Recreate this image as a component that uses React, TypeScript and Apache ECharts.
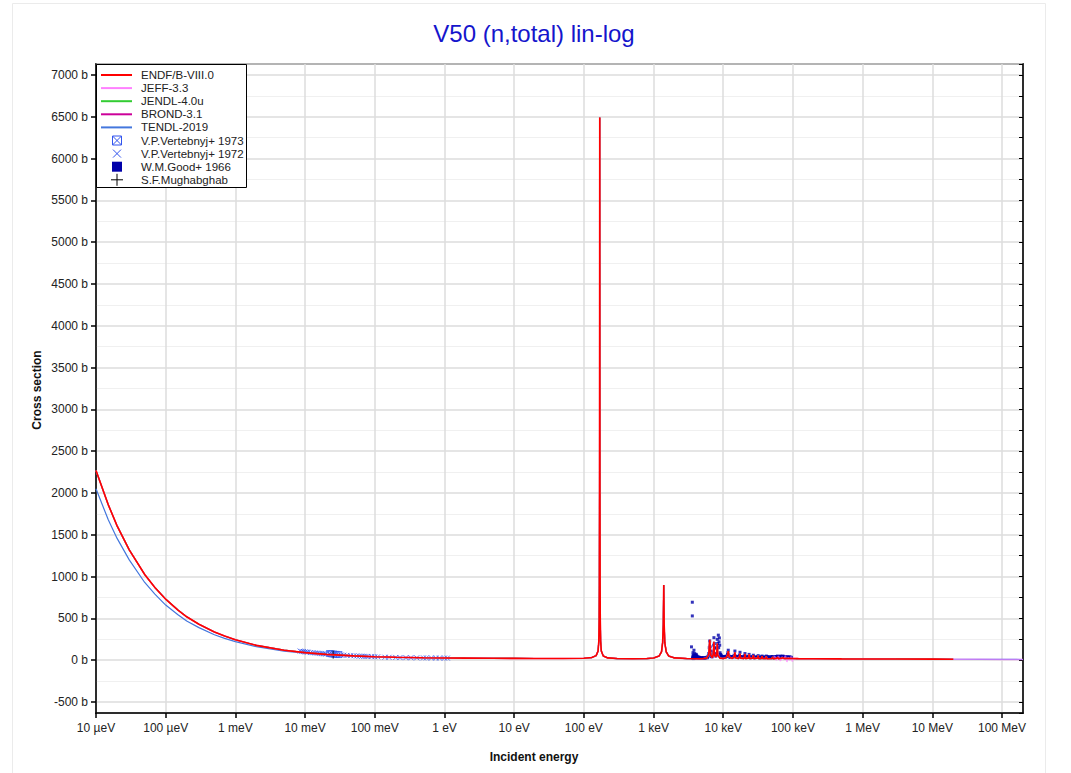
import React, { useEffect, useRef } from "react";
import * as echarts from "echarts";

const FONT = "'Liberation Sans', Arial, Helvetica, sans-serif";

const xTickLabels = [
  "10 µeV", "100 µeV", "1 meV", "10 meV", "100 meV", "1 eV", "10 eV",
  "100 eV", "1 keV", "10 keV", "100 keV", "1 MeV", "10 MeV", "100 MeV",
];

const legendNames = [
  "ENDF/B-VIII.0", "JEFF-3.3", "JENDL-4.0u", "BROND-3.1", "TENDL-2019",
  "V.P.Vertebnyj+ 1973", "V.P.Vertebnyj+ 1972", "W.M.Good+ 1966", "S.F.Mughabghab",
];

// energies in eV, cross sections in b
const endfThermal: number[][] = [
  [1e-5, 2270], [1.5e-5, 1860], [2e-5, 1610], [3e-5, 1320], [5e-5, 1025], [7e-5, 870],
  [1e-4, 730], [1.5e-4, 600], [2e-4, 520], [3e-4, 430], [5e-4, 338], [7e-4, 290],
  [1e-3, 245], [2e-3, 178], [5e-3, 120], [1e-2, 91], [2e-2, 70], [5e-2, 52],
  [0.1, 42], [0.2, 36], [0.5, 30], [1, 27], [2, 25], [5, 23], [10, 22],
];

const tendlThermal: number[][] = [
  [1e-5, 2050], [1.5e-5, 1680], [2e-5, 1460], [3e-5, 1200], [5e-5, 930], [7e-5, 790],
  [1e-4, 660], [1.5e-4, 545], [2e-4, 470], [3e-4, 390], [5e-4, 305], [7e-4, 262],
  [1e-3, 222], [2e-3, 162], [5e-3, 110], [1e-2, 84], [2e-2, 66], [5e-2, 49],
  [0.1, 40], [0.2, 35], [0.5, 29], [1, 26], [2, 24.5], [5, 23], [10, 22],
];

const resonanceRegion: number[][] = [
  [20, 21], [50, 21], [100, 24], [130, 32], [150, 55], [160, 110], [164, 230], [166, 480],
  [167, 900], [168, 2000], [168.6, 4200], [169, 6490], [169.4, 4200], [170, 2000], [171, 900],
  [172, 480], [174, 230], [178, 110], [190, 50], [220, 28], [300, 20], [500, 18], [800, 20],
  [1000, 26], [1200, 50], [1300, 100], [1350, 210], [1380, 430], [1400, 900], [1420, 430],
  [1450, 210], [1520, 100], [1650, 50], [2000, 28], [3000, 20], [4000, 18], [5000, 18],
  [5800, 25], [6200, 70], [6400, 245], [6600, 60], [7000, 30], [7200, 80], [7350, 220],
  [7500, 60], [7900, 40], [8100, 90], [8200, 200], [8350, 60], [9000, 25], [10000, 20],
  [11000, 30], [11500, 60], [11800, 110], [12100, 40], [13500, 20], [14400, 50], [14700, 95],
  [15000, 30], [16500, 20], [17100, 45], [17400, 80], [17700, 25], [19800, 20], [20200, 40],
  [20500, 75], [20900, 20], [23000, 25], [23500, 70], [24000, 20], [26500, 25], [27000, 60],
  [27500, 20], [31000, 25], [31700, 55], [32300, 20], [35300, 20], [36000, 50], [36700, 20],
  [40800, 20], [41500, 45], [42200, 18], [50000, 20],
];

const endfUrr: number[][] = [
  [51000, 40], [52000, 18], [58000, 22], [60000, 35], [62000, 18], [70000, 25],
  [72000, 32], [75000, 20], [85000, 22], [100000, 20], [120000, 19],
];

const jeffUrr: number[][] = [
  [55000, 45], [58000, 0], [62000, 50], [66000, -10], [70000, 40], [74000, 5], [78000, 55],
  [82000, -20], [86000, 35], [90000, 0], [94000, 45], [98000, -15], [102000, 30],
  [106000, 10], [110000, 25], [120000, 19],
];

const fastRange: number[][] = [
  [200000, 18], [500000, 16], [1e6, 15], [3e6, 14], [1e7, 13], [2e7, 12],
];

const highRange: number[][] = [[5e7, 11], [1e8, 10], [2e8, 9]];

const vertebnyj1973: number[][] = [
  [0.0225, 80], [0.024, 76], [0.026, 73], [0.028, 70], [0.0305, 68],
];

const vertebnyj1972: number[][] = [
  [0.0085, 110], [0.009, 106], [0.0095, 104], [0.01, 100], [0.0105, 98], [0.011, 96],
  [0.012, 92], [0.013, 90], [0.014, 87], [0.015, 85], [0.016, 82], [0.017, 80], [0.018, 78],
  [0.019, 76], [0.02, 74], [0.033, 62], [0.036, 60], [0.04, 58], [0.045, 55], [0.05, 53],
  [0.055, 51], [0.06, 49], [0.065, 48], [0.07, 47], [0.075, 46], [0.08, 45], [0.09, 44],
  [0.1, 42], [0.11, 41], [0.14, 36], [0.16, 35], [0.2, 33], [0.23, 32], [0.28, 31],
  [0.33, 30], [0.4, 29], [0.5, 28], [0.55, 28], [0.65, 27], [0.75, 27], [0.85, 26],
  [1.0, 26], [1.1, 26],
];

const good1966: number[][] = [
  [3500, 160], [3600, 694], [3600, 530], [3620, 25], [3650, 40], [3680, 90], [3700, 60],
  [3720, 20], [3750, 30], [3780, 55], [3800, 120], [3820, 40], [3850, 50], [3880, 25],
  [3900, 80], [3920, 45], [3950, 35], [3980, 60], [4000, 45], [4020, 30], [4050, 60],
  [4080, 35], [4100, 70], [4120, 50], [4150, 40], [4180, 30], [4200, 50], [4250, 35],
  [4300, 30], [4350, 40], [4400, 35], [4450, 25], [4500, 28], [4550, 35], [4600, 30],
  [4700, 28], [4800, 25], [4900, 30], [5000, 25], [5100, 28], [5200, 30], [5350, 25],
  [5500, 28], [5650, 30], [5800, 35], [5900, 30], [6000, 40], [6100, 50], [6200, 80],
  [6300, 150], [6400, 230], [6500, 160], [6600, 110], [6700, 60], [6800, 45], [6900, 40],
  [7000, 60], [7100, 70], [7200, 100], [7300, 180], [7350, 270], [7450, 200], [7600, 150],
  [7700, 80], [7800, 50], [7900, 60], [8000, 70], [8100, 140], [8200, 250], [8300, 200],
  [8500, 300], [8600, 150], [8700, 220], [8800, 267], [8900, 180], [9000, 90], [9150, 70],
  [9300, 60], [9450, 50], [9600, 40], [9800, 45], [10000, 35], [10200, 40], [10500, 45],
  [10800, 40], [11000, 50], [11200, 45], [11500, 70], [11650, 90], [11800, 120], [12000, 60],
  [12200, 40], [12500, 40], [12800, 35], [13000, 35], [13200, 40], [13500, 45], [13800, 40],
  [14000, 40], [14300, 60], [14700, 110], [15000, 50], [15500, 40], [15800, 35], [16000, 35],
  [16300, 40], [16500, 45], [17000, 60], [17400, 95], [17700, 45], [18000, 35], [18500, 40],
  [19000, 40], [19500, 35], [20000, 50], [20500, 80], [20800, 40], [21000, 35], [21500, 35],
  [22000, 40], [22500, 35], [23000, 45], [23500, 70], [24000, 35], [24500, 30], [25000, 35],
  [25500, 40], [26000, 35], [26500, 45], [27000, 60], [27500, 35], [28000, 30], [28500, 35],
  [29000, 40], [30000, 35], [31000, 40], [31700, 55], [32500, 35], [33000, 30], [33500, 35],
  [34000, 35], [35000, 40], [36000, 50], [37000, 35], [38000, 35], [39000, 40], [40000, 35],
  [41500, 50], [42500, 40], [43000, 35], [44000, 40], [45000, 40], [46500, 35], [48000, 35],
  [49000, 40], [50000, 45], [51000, 40], [52000, 30], [53500, 35], [55000, 40], [56500, 45],
  [58000, 45], [59000, 40], [60000, 50], [61000, 45], [62000, 35], [63500, 40], [65000, 45],
  [66500, 50], [68000, 40], [69000, 45], [70000, 40], [71000, 45], [72000, 50], [73500, 45],
  [75000, 45], [76500, 40], [78000, 35], [79000, 40], [80000, 35], [82500, 40], [85000, 40],
  [87500, 35], [90000, 40], [92500, 35], [95000, 35],
];

const mughabghab: number[][] = [[0.0253, 66]];

const endfData = [...endfThermal, ...resonanceRegion, ...endfUrr, ...fastRange];
const jeffData = [...endfThermal, ...resonanceRegion, ...jeffUrr, ...fastRange, ...highRange];
const jendlData = [...endfThermal, ...resonanceRegion, ...endfUrr, ...fastRange];
const brondData = [...endfThermal, ...resonanceRegion, ...endfUrr, ...fastRange];
const tendlData = [...tendlThermal, ...resonanceRegion, ...endfUrr, ...fastRange, ...highRange];

const COLORS = {
  endf: "#ff0000",
  jeff: "#ff80ff",
  jendl: "#33cc33",
  brond: "#cc0099",
  tendl: "#4477dd",
  vert: "#3355ee",
  good: "#0000aa",
  mugh: "#000000",
};

const BOXED_X = "path://M0,0L10,0L10,10L0,10ZM0,0L10,10M10,0L0,10";
const CROSS_X = "path://M0,0L10,10M10,0L0,10";
const PLUS = "path://M5,0L5,10M0,5L10,5";

function buildLegend() {
  const children: any[] = [];
  const x0 = 96.5;
  const y0 = 64.5;
  children.push({
    type: "rect",
    shape: { x: x0, y: y0, width: 150, height: 123 },
    style: { fill: "#ffffff", stroke: "#000000", lineWidth: 1 },
    z: 100,
  });
  const lineColors = [COLORS.endf, COLORS.jeff, COLORS.jendl, COLORS.brond, COLORS.tendl];
  legendNames.forEach((name, i) => {
    const cy = 75 + i * 13.1;
    if (i < 5) {
      children.push({
        type: "line",
        shape: { x1: 101, y1: cy, x2: 132, y2: cy },
        style: { stroke: lineColors[i], lineWidth: 2 },
        z: 101,
      });
    } else if (i === 5) {
      children.push({
        type: "rect",
        shape: { x: 112.5, y: cy - 4.5, width: 9, height: 9 },
        style: { fill: "none", stroke: COLORS.vert, lineWidth: 1 },
        z: 101,
      });
      children.push({ type: "line", shape: { x1: 112.5, y1: cy - 4.5, x2: 121.5, y2: cy + 4.5 }, style: { stroke: COLORS.vert, lineWidth: 1 }, z: 101 });
      children.push({ type: "line", shape: { x1: 121.5, y1: cy - 4.5, x2: 112.5, y2: cy + 4.5 }, style: { stroke: COLORS.vert, lineWidth: 1 }, z: 101 });
    } else if (i === 6) {
      children.push({ type: "line", shape: { x1: 113, y1: cy - 4, x2: 121, y2: cy + 4 }, style: { stroke: COLORS.vert, lineWidth: 1 }, z: 101 });
      children.push({ type: "line", shape: { x1: 121, y1: cy - 4, x2: 113, y2: cy + 4 }, style: { stroke: COLORS.vert, lineWidth: 1 }, z: 101 });
    } else if (i === 7) {
      children.push({
        type: "rect",
        shape: { x: 112, y: cy - 5, width: 10, height: 10 },
        style: { fill: COLORS.good },
        z: 101,
      });
    } else {
      children.push({ type: "line", shape: { x1: 117, y1: cy - 6, x2: 117, y2: cy + 6 }, style: { stroke: "#000", lineWidth: 1 }, z: 101 });
      children.push({ type: "line", shape: { x1: 111, y1: cy, x2: 123, y2: cy }, style: { stroke: "#000", lineWidth: 1 }, z: 101 });
    }
    children.push({
      type: "text",
      x: 141,
      y: cy,
      style: {
        text: name,
        font: `11.5px ${FONT}`,
        fill: "#222222",
        textVerticalAlign: "middle",
        verticalAlign: "middle",
      },
      z: 101,
    });
  });
  return children;
}

export default function App() {
  const ref = useRef<HTMLDivElement>(null);

  useEffect(() => {
    if (!ref.current) return;
    const chart = echarts.init(ref.current, null, { renderer: "svg" });

    const lineSeries = (name: string, data: number[][], color: string, width: number, extra: any = {}) => ({
      type: "line",
      name,
      data,
      showSymbol: false,
      symbol: "none",
      lineStyle: { color, width },
      itemStyle: { color },
      clip: true,
      ...extra,
    });

    const option: any = {
      animation: false,
      backgroundColor: "#ffffff",
      textStyle: { fontFamily: FONT },
      grid: {
        left: 96,
        right: 48,
        top: 64,
        bottom: 60,
        show: true,
        borderColor: "#000000",
        borderWidth: 1.5,
        backgroundColor: "transparent",
      },
      xAxis: [
        {
          type: "log",
          logBase: 10,
          min: 1e-5,
          max: 2e8,
          interval: 1,
          axisLine: { show: true, onZero: false, lineStyle: { color: "#000", width: 1.5 } },
          axisTick: { show: true, length: 5, lineStyle: { color: "#000", width: 1.5 } },
          axisLabel: {
            color: "#222",
            fontSize: 12,
            fontFamily: FONT,
            margin: 9,
            showMaxLabel: false,
            formatter: (v: number) => {
              const i = Math.round(Math.log10(v)) + 5;
              return xTickLabels[i] ?? "";
            },
          },
          splitLine: { show: true, lineStyle: { color: "#dddddd", width: 1.5 } },
          minorTick: { show: false },
        },
      ],
      yAxis: [
        {
          type: "value",
          min: -631,
          max: 7131,
          splitNumber: 16,
          axisLine: { show: true, onZero: false, lineStyle: { color: "#000", width: 1.5 } },
          axisTick: { show: true, length: 5, lineStyle: { color: "#000", width: 1.5 } },
          axisLabel: {
            color: "#222",
            fontSize: 12,
            fontFamily: FONT,
            margin: 8,
            showMinLabel: false,
            showMaxLabel: false,
            formatter: (v: number) => `${v} b`,
          },
          splitLine: { show: true, lineStyle: { color: "#dddddd", width: 1.5 } },
          minorTick: { show: false, splitNumber: 2 },
          minorSplitLine: { show: true, lineStyle: { color: "#f0f0f0", width: 1 } },
        },
        {
          type: "value",
          position: "right",
          min: -631,
          max: 7131,
          splitNumber: 16,
          axisLine: { show: true, onZero: false, lineStyle: { color: "#000", width: 1.5 } },
          axisTick: { show: true, inside: true, length: 4, lineStyle: { color: "#000", width: 1 } },
          minorTick: { show: true, splitNumber: 2, length: 4, lineStyle: { color: "#000", width: 1 } },
          axisLabel: { show: false },
          splitLine: { show: false },
        },
      ],
      graphic: [
        {
          type: "rect",
          shape: { x: 12.5, y: 3.5, width: 1033, height: 800 },
          style: { fill: "none", stroke: "#ebebeb", lineWidth: 1 },
          z: -10,
          silent: true,
        },
        {
          type: "text",
          x: 534,
          y: 33,
          style: {
            text: "V50 (n,total) lin-log",
            font: `24px ${FONT}`,
            fill: "#1515cc",
            textAlign: "center",
            textVerticalAlign: "middle",
            align: "center",
            verticalAlign: "middle",
          },
        },
        {
          type: "text",
          x: 534,
          y: 757,
          style: {
            text: "Incident energy",
            font: `bold 12px ${FONT}`,
            fill: "#111",
            textAlign: "center",
            textVerticalAlign: "middle",
            align: "center",
            verticalAlign: "middle",
          },
        },
        {
          type: "text",
          x: 37,
          y: 390,
          rotation: Math.PI / 2,
          style: {
            text: "Cross section",
            font: `bold 12px ${FONT}`,
            fill: "#111",
            textAlign: "center",
            textVerticalAlign: "middle",
            align: "center",
            verticalAlign: "middle",
          },
        },
        ...buildLegend(),
      ],
      series: [
        {
          type: "scatter",
          name: legendNames[5],
          data: vertebnyj1973,
          symbol: BOXED_X,
          symbolSize: 6,
          itemStyle: { color: "transparent", borderColor: COLORS.vert, borderWidth: 1 },
        },
        {
          type: "scatter",
          name: legendNames[6],
          data: vertebnyj1972,
          symbol: CROSS_X,
          symbolSize: 5,
          itemStyle: { color: "transparent", borderColor: COLORS.vert, borderWidth: 1 },
        },
        {
          type: "scatter",
          name: legendNames[7],
          data: good1966,
          symbol: "rect",
          symbolSize: 3,
          itemStyle: { color: COLORS.good },
        },
        {
          type: "scatter",
          name: legendNames[8],
          data: mughabghab,
          symbol: PLUS,
          symbolSize: 8,
          itemStyle: { color: "transparent", borderColor: COLORS.mugh, borderWidth: 1 },
        },
        lineSeries(legendNames[4], tendlData, COLORS.tendl, 1.2),
        lineSeries(legendNames[3], brondData, COLORS.brond, 1.2),
        lineSeries(legendNames[2], jendlData, COLORS.jendl, 1.2),
        lineSeries(legendNames[1], jeffData, COLORS.jeff, 1.5, { lineStyle: { color: COLORS.jeff, width: 1.5, opacity: 0.65 } }),
        lineSeries(legendNames[0], endfData, COLORS.endf, 1.6),
      ],
    };

    chart.setOption(option);
    return () => chart.dispose();
  }, []);

  return (
    <div
      ref={ref}
      style={{ position: "absolute", left: 0, top: 0, width: 1071, height: 773, background: "#fff" }}
    />
  );
}
